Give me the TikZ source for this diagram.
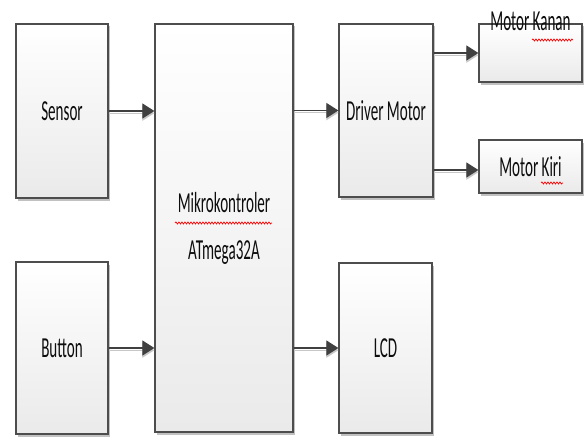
\documentclass[tikz,border=0pt]{standalone}
\usepackage{fontspec}
\newfontfamily\lblfont[FakeStretch=0.52]{Carlito}
\usetikzlibrary{arrows.meta,shadows,decorations.pathmorphing}
\definecolor{boxline}{HTML}{4D4D4D}
\definecolor{boxbot}{HTML}{EAEAEA}
\definecolor{arrgray}{HTML}{404040}
\begin{document}
\begin{tikzpicture}[x=1pt,y=-1pt,
 blk/.style={draw=boxline, line width=1.3pt, top color=white, bottom color=boxbot,
   drop shadow={shadow xshift=1.5pt,shadow yshift=-2.5pt,fill=black!40,opacity=0.6},
   inner sep=0pt, font=\lblfont\fontsize{29}{34}\selectfont, text=black!95},
 lbl/.style={font=\lblfont\fontsize{29}{34}\selectfont, text=black!95, inner sep=0pt},
 arr/.style={draw=arrgray, line width=1.2pt, -{Triangle[length=12pt,width=15pt]},
   preaction={draw=black!22, line width=1.2pt, -{Triangle[length=12pt,width=15pt]}, transform canvas={yshift=-2.2pt}}},
 wavy/.style={draw=red, line width=0.7pt, decorate, decoration={snake, amplitude=1pt, segment length=3pt}}
]
\useasboundingbox[fill=white] (0,0) rectangle (585,436);

\node[blk, minimum width=92pt, minimum height=174pt] (sensor) at (62,111) {Sensor};
\node[blk, minimum width=92pt, minimum height=172pt] (button) at (62,348) {Button};
\node[blk, minimum width=138pt, minimum height=408pt, align=center] (mikro) at (224,228) {Mikrokontroler\\[13pt]ATmega32A};
\node[blk, minimum width=94pt, minimum height=173pt] (driver) at (386,110.5) {Driver Motor};
\node[blk, minimum width=93pt, minimum height=170pt] (lcd) at (385.5,348) {LCD};
\node[blk, minimum width=103pt, minimum height=58pt] (kanan) at (530.5,53) {};
\node[blk, minimum width=103pt, minimum height=53pt] (kiri) at (530.5,166.5) {Motor Kiri};
\node[lbl] (kananlbl) at ([yshift=2pt]kanan.north) {Motor Kanan};

\draw[arr] (sensor.east) -- (sensor.east -| mikro.west);
\draw[arr] (button.east) -- (button.east -| mikro.west);
\draw[arr] (driver.west -| mikro.east) -- (driver.west);
\draw[arr] (lcd.west -| mikro.east) -- (lcd.west);
\draw[arr] (kanan.west -| driver.east) -- (kanan.west);
\draw[arr] ([yshift=-3.5pt]kiri.west -| driver.east) -- ([yshift=-3.5pt]kiri.west);

\draw[wavy] (175,223) -- (272,223);
\draw[wavy] (532,40) -- (573,40);
\draw[wavy] (541,183) -- (563,183);
\end{tikzpicture}
\end{document}
